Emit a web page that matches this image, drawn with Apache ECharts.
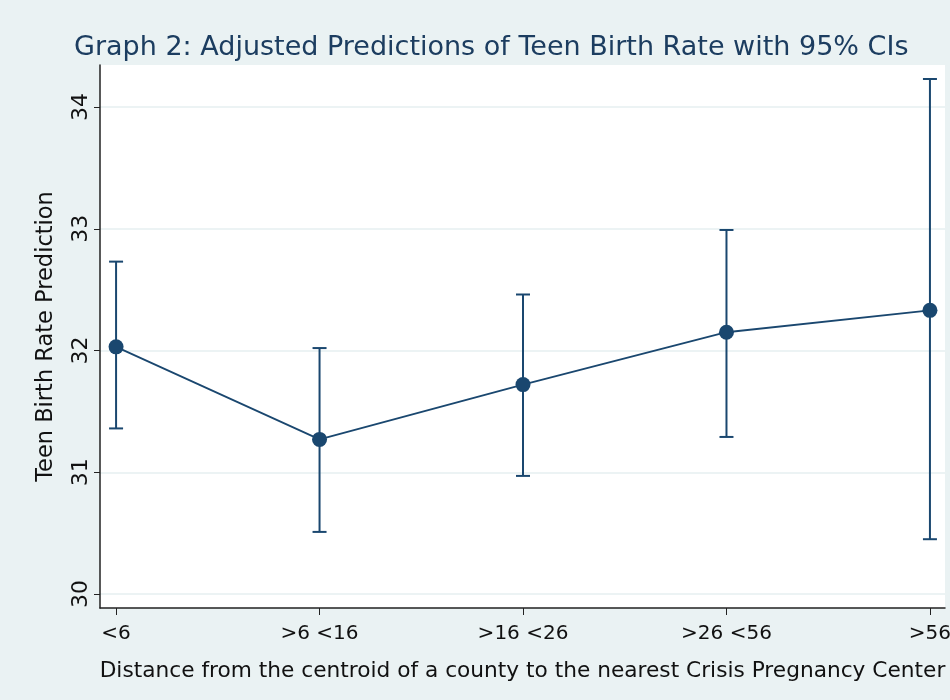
<!DOCTYPE html>
<html>
<head>
<meta charset="utf-8">
<script src="https://cdn.jsdelivr.net/npm/echarts@6/dist/echarts.min.js"></script>
<style>html,body{margin:0;padding:0;background:#eaf2f3;}#c{width:950px;height:700px;}</style>
</head>
<body>
<div id="c"></div>
<script>
var categories = ['<6', '>6 <16', '>16 <26', '>26 <56', '>56'];
var predictions = [32.03, 31.27, 31.72, 32.15, 32.33];
var ciLower = [31.36, 30.51, 30.97, 31.29, 30.45];
var ciUpper = [32.73, 32.02, 32.46, 32.99, 34.23];
var yTicks = [30, 31, 32, 33, 34];

var positions = categories.map(function (c, i) { return i + 1; });
var lineData = positions.map(function (p, i) { return [p, predictions[i]]; });
var ciData = positions.map(function (p, i) { return [p, ciLower[i], ciUpper[i]]; });

var navy = '#1a476f';
var font = 'DejaVu Sans, Liberation Sans, Arial, sans-serif';
var chart = echarts.init(document.getElementById('c'));
chart.setOption({
  backgroundColor: '#eaf2f3',
  animation: false,
  title: {
    text: 'Graph 2: Adjusted Predictions of Teen Birth Rate with 95% CIs',
    left: 69, top: 29,
    textStyle: { fontFamily: font, fontSize: 27, fontWeight: 'normal', color: '#1c3d60' }
  },
  grid: { left: 100, right: 5, top: 65, bottom: 92, show: true, backgroundColor: '#ffffff', borderWidth: 0, containLabel: false, outerBoundsMode: 'none' },
  xAxis: {
    type: 'value', min: 0.921, max: 5.074,
    name: 'Distance from the centroid of a county to the nearest Crisis Pregnancy Center',
    nameLocation: 'middle', nameGap: 52,
    nameTextStyle: { fontFamily: font, fontSize: 21.7, color: '#111' },
    axisLine: { show: true, lineStyle: { color: '#222', width: 1.5 } },
    axisTick: { show: true, customValues: positions, length: 7, lineStyle: { color: '#222' } },
    axisLabel: {
      customValues: positions, margin: 16,
      fontFamily: font, fontSize: 20, color: '#111',
      formatter: function (v) { return categories[Math.round(v) - 1] || ''; }
    },
    splitLine: { show: false }
  },
  yAxis: {
    type: 'value', min: 29.885, max: 34.345,
    name: 'Teen Birth Rate Prediction',
    nameLocation: 'middle', nameRotate: 90, nameGap: 42,
    nameTextStyle: { fontFamily: font, fontSize: 22.5, color: '#111' },
    axisLine: { show: true, lineStyle: { color: '#222', width: 1.5 } },
    axisTick: { show: true, customValues: yTicks, length: 6, lineStyle: { color: '#222' } },
    axisLabel: { customValues: yTicks, rotate: 90, margin: 8, fontFamily: font, fontSize: 22, color: '#111' },
    splitLine: { show: true, lineStyle: { color: '#e6eff1', width: 1.5 } }
  },
  series: [
    {
      type: 'custom',
      data: ciData,
      renderItem: function (params, api) {
        var x = api.value(0);
        var lo = api.coord([x, api.value(1)]);
        var hi = api.coord([x, api.value(2)]);
        var cap = 7;
        var st = { stroke: navy, lineWidth: 2 };
        return {
          type: 'group',
          children: [
            { type: 'line', shape: { x1: lo[0], y1: lo[1], x2: hi[0], y2: hi[1] }, style: st },
            { type: 'line', shape: { x1: lo[0] - cap, y1: lo[1], x2: lo[0] + cap, y2: lo[1] }, style: st },
            { type: 'line', shape: { x1: hi[0] - cap, y1: hi[1], x2: hi[0] + cap, y2: hi[1] }, style: st }
          ]
        };
      },
      z: 2
    },
    {
      type: 'line',
      data: lineData,
      symbol: 'circle', symbolSize: 15,
      lineStyle: { color: navy, width: 1.8 },
      itemStyle: { color: navy },
      z: 3
    }
  ]
});
</script>
</body>
</html>
